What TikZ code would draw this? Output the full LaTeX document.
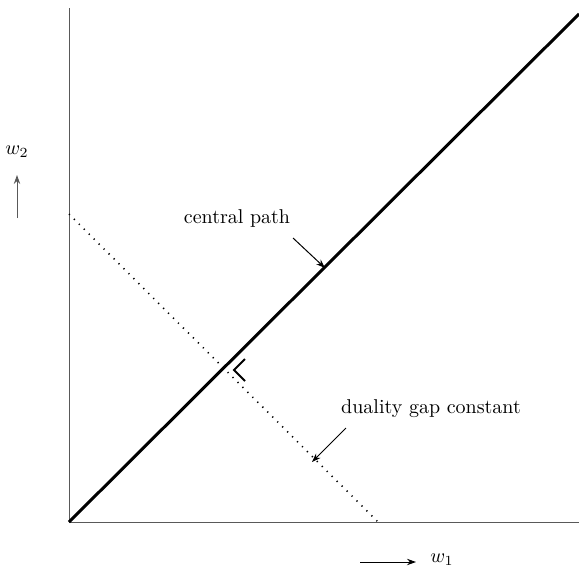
\documentclass[tikz,border=0pt]{standalone}
\usetikzlibrary{arrows.meta}
\begin{document}
\begin{tikzpicture}[x=0.5pt,y=-0.5pt,
  axis/.style={gray!70!black,line width=0.5pt},
  pathline/.style={black,line width=1.5pt},
  gapline/.style={black,line width=0.8pt,dash pattern=on 0.6pt off 2.9pt},
  pointer/.style={black,line width=0.5pt,-{Stealth[length=4.5pt,width=3.2pt]}},
  lbl/.style={inner sep=0pt}]
\useasboundingbox (0,0) rectangle (579,573);
% axes
\coordinate (O) at (69,522);
\coordinate (Ytop) at (69,8);
\coordinate (Xend) at (579,522);
\draw[axis] (Ytop) -- (O) -- (Xend);
% central path
\coordinate (Ptop) at (579,14);
\draw[pathline] (O) -- (Ptop);
% duality gap line
\coordinate (Ga) at (69,214);
\coordinate (Gb) at (378,522);
\draw[gapline] (Ga) -- (Gb);
% right angle marker
\coordinate (Rv) at (234,370);
\coordinate (Ru) at (245,359);
\coordinate (Rd) at (245,381);
\draw[black,line width=1pt] (Ru) -- (Rv) -- (Rd);
% labels
\node[lbl] (cp) at (237,218) {central path};
\coordinate (cpS) at (293,238);
\coordinate (cpT) at (325,268);
\draw[pointer] (cpS) -- (cpT);
\node[lbl] (dg) at (431,409) {duality gap constant};
\coordinate (dgS) at (346,428);
\coordinate (dgT) at (312,462);
\draw[pointer] (dgS) -- (dgT);
% axis labels
\node[lbl] (w2) at (17,152) {$w_2$};
\coordinate (w2S) at (17,218);
\coordinate (w2T) at (17,175);
\draw[pointer,gray!70!black] (w2S) -- (w2T);
\node[lbl] (w1) at (442,560) {$w_1$};
\coordinate (w1S) at (360,562);
\coordinate (w1T) at (416,562);
\draw[pointer] (w1S) -- (w1T);
\end{tikzpicture}
\end{document}
